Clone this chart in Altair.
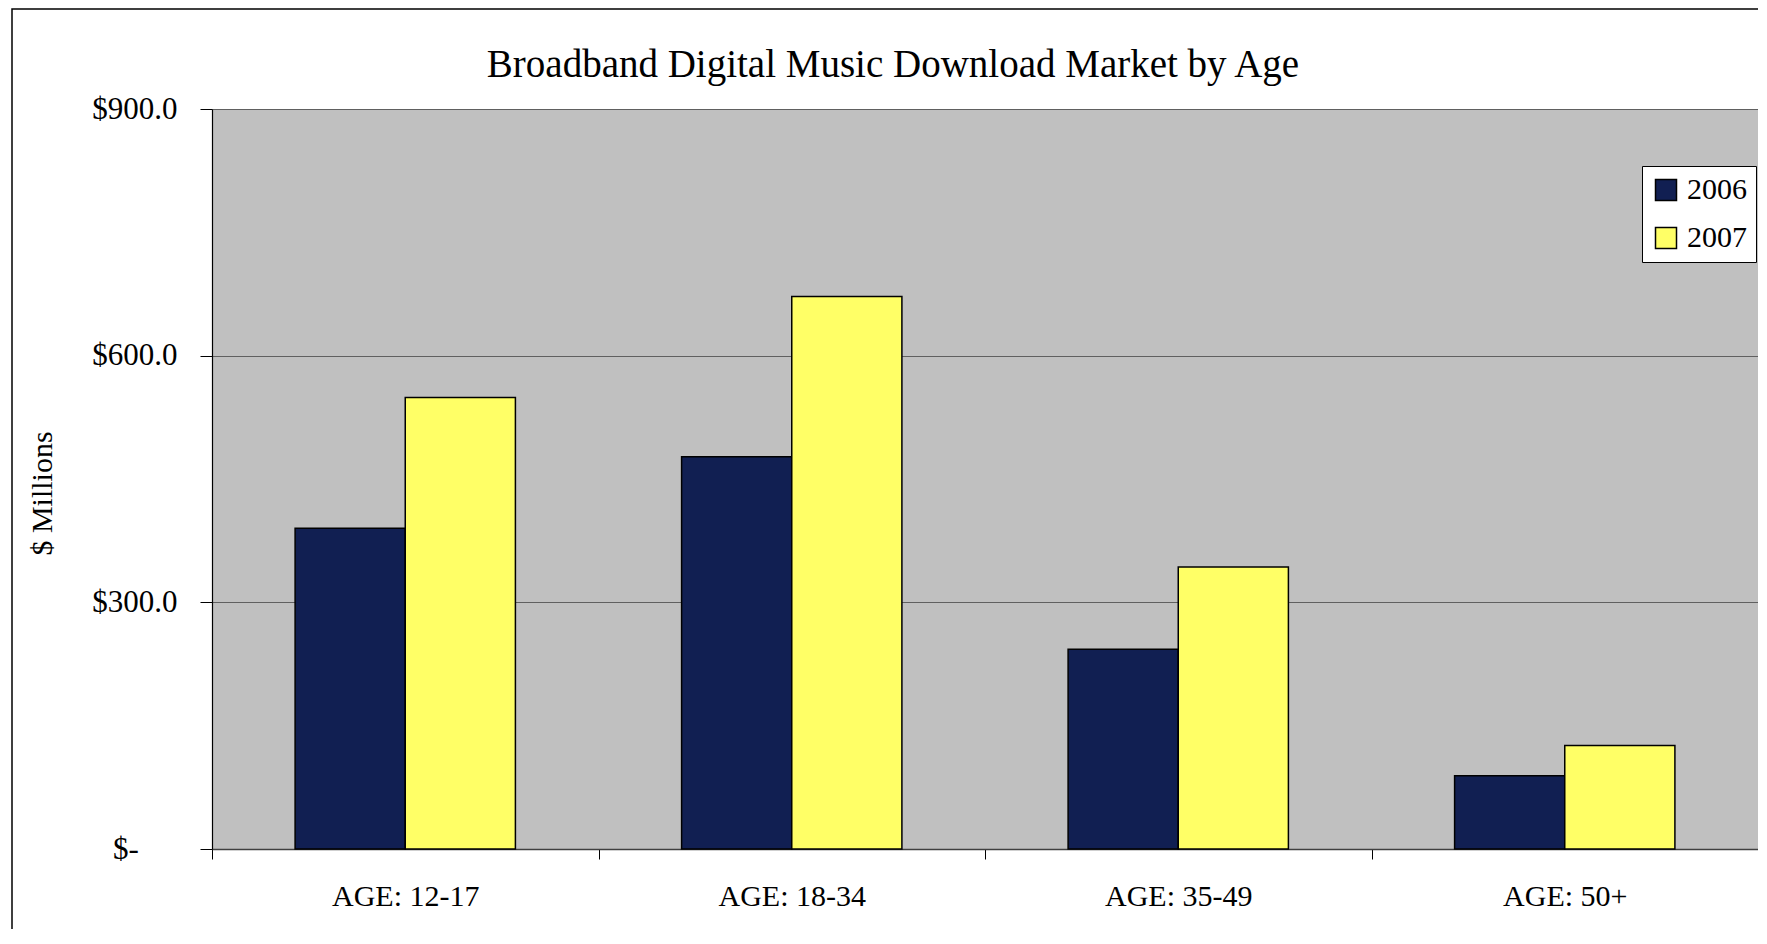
import altair as alt
import pandas as pd

# ---- data ----
ages = ["AGE: 12-17", "AGE: 18-34", "AGE: 35-49", "AGE: 50+"]
years = ["2006", "2007"]
values_2006 = [390, 477, 243, 89]
values_2007 = [549, 672, 343, 126]
y_ticks = [0, 300, 600, 900]
colors = ["#111F52", "#FFFF66"]

rows = []
for a, v6, v7 in zip(ages, values_2006, values_2007):
    rows.append({"age": a, "year": years[0], "value": v6})
    rows.append({"age": a, "year": years[1], "value": v7})
df = pd.DataFrame(rows)

FONT = "Liberation Serif"
NB = "\u00a0"
ZW = "\u200b"

WIDTH = 1546
STEP = WIDTH / len(ages)

label_expr = ("datum.value == 0 ? '$-" + NB * 5 + ZW + "' : '$' + format(datum.value, '.1f')")

bars = alt.Chart(df).mark_bar(stroke="black", strokeWidth=1.5).encode(
    x=alt.X(
        "age:N", sort=ages,
        scale=alt.Scale(paddingInner=0.43, paddingOuter=0.215),
        axis=alt.Axis(title=None, labelAngle=0, tickSize=10,
                      tickOffset=-STEP / 2, labelOffset=STEP / 2,
                      tickColor="black", domainColor="#404040", domainWidth=1.5,
                      labelFontSize=30, labelFont=FONT, labelPadding=22,
                      labelColor="black", grid=False),
    ),
    xOffset=alt.XOffset("year:N", sort=years,
                        scale=alt.Scale(paddingInner=0, paddingOuter=0)),
    y=alt.Y(
        "value:Q",
        scale=alt.Scale(domain=[0, 900], nice=False),
        axis=alt.Axis(title="$ Millions", values=y_ticks, labelExpr=label_expr,
                      labelFontSize=31, labelFont=FONT, labelColor="black",
                      labelPadding=23, tickSize=12, tickColor="black",
                      domainColor="black", domainWidth=1.2,
                      grid=True, gridColor="#606060", gridWidth=1,
                      titleFont=FONT, titleFontSize=30, titleFontWeight="normal",
                      titleColor="black", titleAngle=270, titleX=-170, titleY=384,
                      titleAlign="center", titleBaseline="middle"),
    ),
    color=alt.Color(
        "year:N",
        scale=alt.Scale(domain=years, range=colors),
        legend=alt.Legend(title=None, orient="none", legendX=1430, legendY=57,
                          symbolType="square", symbolSize=441,
                          symbolStrokeColor="black", symbolStrokeWidth=1.5,
                          labelFontSize=30, labelFont=FONT, labelColor="black",
                          labelOffset=6, fillColor="white", strokeColor="black",
                          padding=9, rowPadding=18),
    ),
)

frame = alt.Chart(alt.Data(values=[{"f": 1}])).mark_rect(
    fillOpacity=0, stroke="black", strokeWidth=1.5
).encode(
    x=alt.value(-200), x2=alt.value(1700), y=alt.value(-100), y2=alt.value(1000)
)

chart = alt.layer(frame, bars).properties(
    width=WIDTH,
    height=740,
    autosize=alt.AutoSizeParams(type="none"),
    padding={"left": 204, "top": 101, "right": 0, "bottom": 80},
    title=alt.Title("Broadband Digital Music Download Market by Age",
                    font=FONT, fontSize=39, fontWeight="normal", color="black",
                    anchor="middle", frame="group", dx=-92, offset=0, dy=116,
                    baseline="bottom"),
).configure_view(
    fill="#C0C0C0", stroke="transparent"
)

chart.save("out.html", embed_options={"renderer": "svg", "actions": False})
